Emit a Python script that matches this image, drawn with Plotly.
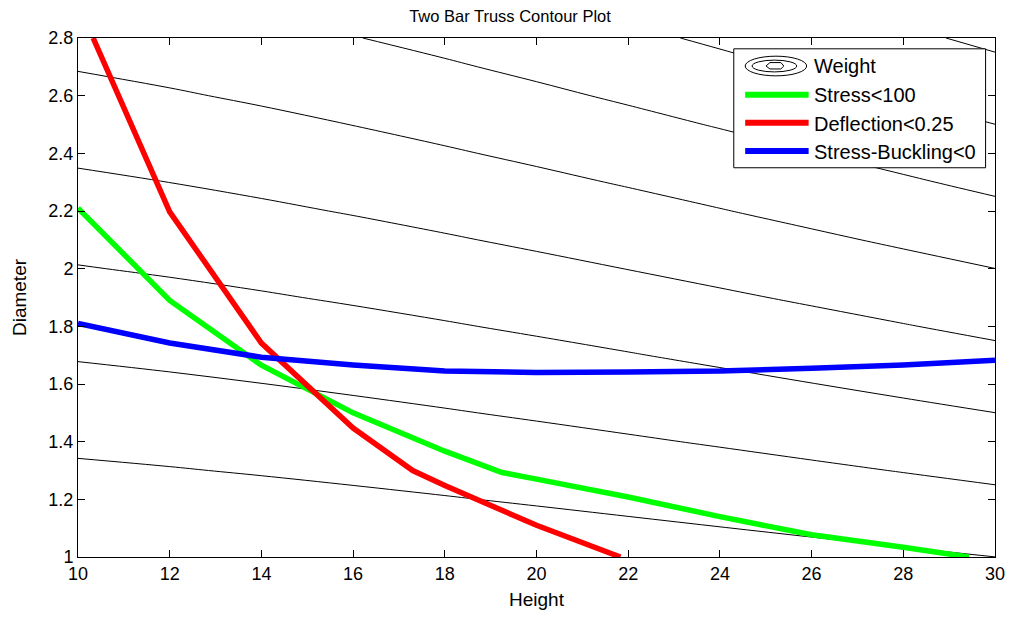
import numpy as np
import plotly.graph_objects as go

# ---------------- data ----------------
# Two-bar truss model constants (weight field drawn as contours)
RHO = 0.3        # density
THICK = 0.15     # wall thickness
BASE = 60.0      # base span
weight_start, weight_end, weight_step = 12, 33, 3

height_grid = np.arange(10, 30.001, 2.0)
diam_grid = np.arange(1.0, 2.8001, 0.1)

# constraint boundaries (Height, Diameter)
stress_h = [10, 12, 14, 16, 18, 19.25, 20, 22, 24, 26, 28, 29.43]
stress_d = [2.21, 1.89, 1.665, 1.50, 1.367, 1.293, 1.27, 1.208, 1.14, 1.077, 1.034, 1.0]

defl_h = [10.33, 12, 14, 16, 17.3, 18, 20, 21.83]
defl_d = [2.80, 2.197, 1.742, 1.447, 1.30, 1.248, 1.11, 1.0]

buck_h = [10, 12, 14, 16, 18, 20, 22, 24, 26, 28, 30]
buck_d = [1.81, 1.742, 1.693, 1.666, 1.645, 1.64, 1.642, 1.645, 1.655, 1.666, 1.682]

x_ticks = [10, 12, 14, 16, 18, 20, 22, 24, 26, 28, 30]
y_ticks = [1, 1.2, 1.4, 1.6, 1.8, 2, 2.2, 2.4, 2.6, 2.8]

legend_names = ["Weight", "Stress<100", "Deflection<0.25", "Stress-Buckling<0"]
line_colors = ["#00ff00", "#ff0000", "#0000ff"]

# ---------------- figure ----------------
W_PX, H_PX = 1017, 619
L, R, T, B = 78, 14, 38, 53
FONT = "Liberation Sans, Arial, Helvetica, sans-serif"

Hg, Dg = np.meshgrid(height_grid, diam_grid)
weight = 2 * np.pi * RHO * Dg * THICK * np.sqrt((BASE / 2) ** 2 + Hg ** 2)

fig = go.Figure()
fig.add_trace(go.Contour(
    x=height_grid, y=diam_grid, z=weight,
    contours=dict(start=weight_start, end=weight_end, size=weight_step,
                  coloring="lines", showlabels=False),
    colorscale=[[0, "black"], [1, "black"]],
    line=dict(width=1, color="black"),
    showscale=False, hoverinfo="skip", name=legend_names[0],
))
for hs, ds, c, n in [(stress_h, stress_d, line_colors[0], legend_names[1]),
                     (defl_h, defl_d, line_colors[1], legend_names[2]),
                     (buck_h, buck_d, line_colors[2], legend_names[3])]:
    fig.add_trace(go.Scatter(x=hs, y=ds, mode="lines", name=n,
                             line=dict(color=c, width=5.5), showlegend=False))

# pixel -> paper helpers (plot area spans x 78..1003, y 38..566)
X0P, X1P, Y0P, Y1P = L, W_PX - R, T, H_PX - B


def px(xp):
    return (xp - X0P) / (X1P - X0P)


def py(yp):
    return (Y1P - yp) / (Y1P - Y0P)


shapes = []
annos = []
# legend box
shapes.append(dict(type="rect", xref="paper", yref="paper",
                   x0=px(739.5), x1=px(993.5), y0=py(170), y1=py(49),
                   line=dict(color="black", width=1), fillcolor="white", layer="above"))
# weight icon (nested rings)
shapes.append(dict(type="circle", xref="paper", yref="paper",
                   x0=px(751), x1=px(813), y0=py(76.5), y1=py(56.5),
                   line=dict(color="black", width=1), layer="above"))
shapes.append(dict(type="circle", xref="paper", yref="paper",
                   x0=px(758), x1=px(803), y0=py(72.5), y1=py(60.5),
                   line=dict(color="black", width=1), layer="above"))
hexpts = [(772, 66.5), (776, 63), (787, 63), (790, 66.5), (787, 69.5), (776, 69.5)]
path = "M " + " L ".join(f"{px(a):.5f},{py(b):.5f}" for a, b in hexpts) + " Z"
shapes.append(dict(type="path", xref="paper", yref="paper", path=path,
                   line=dict(color="black", width=1), layer="above"))
# legend line samples
for c, yy in zip(line_colors, [95.7, 124.3, 153]):
    shapes.append(dict(type="line", xref="paper", yref="paper",
                       x0=px(751), x1=px(815), y0=py(yy), y1=py(yy),
                       line=dict(color=c, width=6), layer="above"))
for name, yy in zip(legend_names, [66.5, 96, 125, 154]):
    annos.append(dict(text=name, xref="paper", yref="paper", x=px(818), y=py(yy),
                      xanchor="left", yanchor="middle", showarrow=False,
                      font=dict(family=FONT, size=20, color="black")))

fig.update_layout(
    width=W_PX, height=H_PX,
    margin=dict(l=L, r=R, t=T, b=B, pad=0),
    paper_bgcolor="white", plot_bgcolor="white",
    font=dict(family=FONT, size=18, color="black"),
    title=dict(text="Two Bar Truss Contour Plot", x=510 / W_PX, xref="container",
               xanchor="center", y=1 - 16 / H_PX, yref="container", yanchor="middle",
               font=dict(family=FONT, size=16.5, color="black")),
    showlegend=False,
    shapes=shapes, annotations=annos,
)
axis_common = dict(showline=True, linecolor="black", linewidth=1, mirror="ticks",
                   ticks="inside", ticklen=7, tickwidth=1, tickcolor="black",
                   showgrid=False, zeroline=False,
                   tickfont=dict(family=FONT, size=18, color="black"))
fig.update_xaxes(range=[10, 30], tickvals=x_ticks, ticktext=[str(v) for v in x_ticks],
                 title=dict(text="Height", standoff=10, font=dict(family=FONT, size=19)),
                 **axis_common)
fig.update_yaxes(range=[1, 2.8], tickvals=y_ticks,
                 ticktext=[f"{v:g}" for v in y_ticks],
                 title=dict(text="Diameter", standoff=16, font=dict(family=FONT, size=19)),
                 **axis_common)

fig.write_html("out.html",
               config={"displayModeBar": False},
               post_script="document.body.style.margin='0';document.body.style.overflow='hidden';")
